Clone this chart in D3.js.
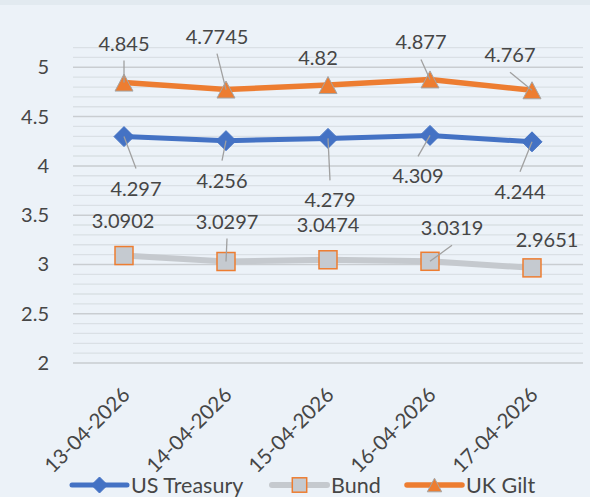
<!DOCTYPE html>
<html>
<head>
<meta charset="utf-8">
<script src="https://cdn.jsdelivr.net/npm/d3@7"></script>
<style>
  html, body { margin: 0; padding: 0; background: #ecf2f8; }
  svg { display: block; font-family: Lato, "Noto Sans", sans-serif; }
</style>
</head>
<body>
<svg id="chart"></svg>
<script>
// данные
const dates = ["13-04-2026", "14-04-2026", "15-04-2026", "16-04-2026", "17-04-2026"];
const usTreasury = [4.297, 4.256, 4.279, 4.309, 4.244];
const bund = [3.0902, 3.0297, 3.0474, 3.0319, 2.9651];
const ukGilt = [4.845, 4.7745, 4.82, 4.877, 4.767];
const yTicks = [2, 2.5, 3, 3.5, 4, 4.5, 5];

// смещения подписей [dx, dy, выноска]
const gILabels = [[0, -39, 1], [-9, -53, 1], [-10, -27, 0], [-9, -37, 1], [-22, -35, 1]];
const usLabels = [[12, 52, 1], [-4, 40, 1], [2, 62, 1], [-12, 41, 1], [-12, 50, 1]];
const buLabels = [[-1, -35, 0], [1, -40, 1], [0, -35, 0], [22, -33, 1], [15, -28, 0]];

const series = [
  { name: "US Treasury", values: usTreasury, color: "#4472c4", width: 5, marker: "diamond", labels: usLabels },
  { name: "Bund", values: bund, color: "#c5c9ce", width: 6, marker: "square", labels: buLabels },
  { name: "UK Gilt", values: ukGilt, color: "#ed7d31", width: 5.5, marker: "triangle", labels: gILabels }
];

const textColor = "#464646";
const W = 590, H = 497;
const svg = d3.select("#chart").attr("width", W).attr("height", H);

svg.append("rect").attr("width", W).attr("height", H).attr("fill", "#ecf2f8");
svg.append("rect").attr("width", W).attr("height", 5).attr("fill", "#e2eaf0");

const x = d3.scalePoint().domain(dates).range([73, 583]).padding(0.5);
const y = d3.scaleLinear().domain([2, 5.2]).range([363, 47.6]);

// сетка: мелкие линии через 0.1, крупные через 0.5
const minor = d3.range(20, 53).map(d => d / 10);
svg.append("g").selectAll("line")
  .data(minor.filter(d => Math.round(d * 10) % 5 !== 0))
  .join("line")
  .attr("x1", 73).attr("x2", 583)
  .attr("y1", d => y(d)).attr("y2", d => y(d))
  .attr("stroke", "#dae0e5").attr("stroke-width", 1.3);

svg.append("g").selectAll("line")
  .data(yTicks)
  .join("line")
  .attr("x1", 73).attr("x2", 583)
  .attr("y1", d => y(d)).attr("y2", d => y(d))
  .attr("stroke", "#c9cdd1").attr("stroke-width", 1.5);

// ось Y
svg.append("g").selectAll("text")
  .data(yTicks)
  .join("text")
  .attr("x", 49).attr("y", d => y(d))
  .attr("dy", "0.35em")
  .attr("text-anchor", "end")
  .attr("font-size", 20)
  .attr("fill", textColor)
  .text(d => d);

// ось X
svg.append("g").selectAll("text")
  .data(dates)
  .join("text")
  .attr("transform", d => `translate(${x(d) + 2},391) rotate(-45)`)
  .attr("dy", "0.35em")
  .attr("text-anchor", "end")
  .attr("font-size", 20.5)
  .attr("fill", textColor)
  .text(d => d);

const line = d3.line()
  .x((d, i) => x(dates[i]))
  .y(d => y(d));

svg.append("g").selectAll("path")
  .data(series)
  .join("path")
  .attr("d", s => line(s.values))
  .attr("fill", "none")
  .attr("stroke", s => s.color)
  .attr("stroke-width", s => s.width)
  .attr("stroke-linejoin", "round");

function drawMarker(g, type, cx, cy, k) {
  if (type === "diamond") {
    const r = 10 * k;
    g.append("path")
      .attr("d", `M${cx},${cy - r}L${cx + r},${cy}L${cx},${cy + r}L${cx - r},${cy}Z`)
      .attr("fill", "#4472c4").attr("stroke", "#4472c4").attr("stroke-width", 1);
  } else if (type === "square") {
    const s = 18 * k;
    g.append("rect")
      .attr("x", cx - s / 2).attr("y", cy - s / 2)
      .attr("width", s).attr("height", s)
      .attr("fill", "#c5cad0").attr("stroke", "#ed7d31").attr("stroke-width", 1.5);
  } else {
    const w = 9 * k, h = 8.5 * k;
    g.append("path")
      .attr("d", `M${cx},${cy - h}L${cx + w},${cy + h}L${cx - w},${cy + h}Z`)
      .attr("fill", "#ed7d31").attr("stroke", "#a5a5a5").attr("stroke-width", 1);
  }
}

const markers = svg.append("g");
series.forEach(s => {
  s.values.forEach((v, i) => drawMarker(markers, s.marker, x(dates[i]), y(v), 1));
});

// выноски и подписи данных
const leaders = svg.append("g");
const labels = svg.append("g");
series.forEach(s => {
  s.values.forEach((v, i) => {
    const px = x(dates[i]), py = y(v);
    const [dx, dy, lead] = s.labels[i];
    const lx = px + dx, ly = py + dy;
    if (lead) {
      const sy = dy < 0 ? ly + 17 : ly - 20;
      leaders.append("line")
        .attr("x1", lx).attr("y1", sy)
        .attr("x2", px).attr("y2", py)
        .attr("stroke", "#a0a0a0").attr("stroke-width", 1.3);
    }
    labels.append("text")
      .attr("x", lx).attr("y", ly)
      .attr("dy", "0.35em")
      .attr("text-anchor", "middle")
      .attr("font-size", 20)
      .attr("fill", textColor)
      .text(v);
  });
});

// легенда
const legendX = [72, 272, 407];
const legend = svg.append("g");
series.forEach((s, i) => {
  const lx = legendX[i], ly = 485;
  legend.append("line")
    .attr("x1", lx).attr("x2", lx + 55)
    .attr("y1", ly).attr("y2", ly)
    .attr("stroke", s.color).attr("stroke-width", s.width)
    .attr("stroke-linecap", "round");
  drawMarker(legend, s.marker, lx + 27.5, ly, 0.8);
  legend.append("text")
    .attr("x", lx + 59).attr("y", ly)
    .attr("dy", "0.35em")
    .attr("font-size", 21.5)
    .attr("fill", textColor)
    .text(s.name);
});
</script>
</body>
</html>
